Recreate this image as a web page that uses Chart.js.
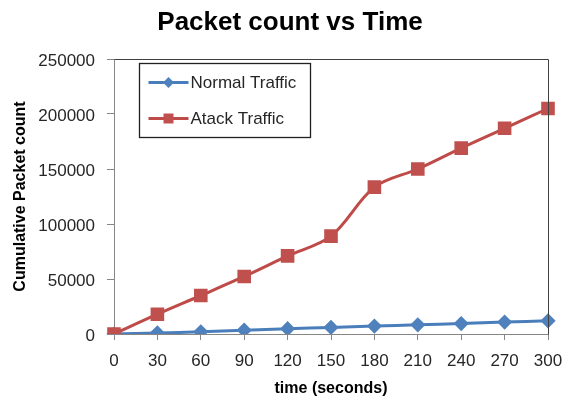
<!DOCTYPE html>
<html>
<head>
<meta charset="utf-8">
<script src="https://cdn.jsdelivr.net/npm/chart.js@4/dist/chart.umd.min.js"></script>
<style>
  html, body { margin: 0; padding: 0; background: #fff; }
  #wrap { width: 563px; height: 400px; position: relative; }
</style>
</head>
<body>
<div id="wrap"><canvas id="chart" width="563" height="400"></canvas></div>
<script>
// Time in seconds (x-axis categories)
const timeLabels = ['0', '30', '60', '90', '120', '150', '180', '210', '240', '270', '300'];
// Cumulative packet counts
const normalTraffic = [0, 1000, 2000, 3500, 4800, 6000, 7200, 8300, 9500, 10800, 12000];
const attackTraffic = [0, 18000, 35000, 52300, 71000, 89000, 133500, 150000, 169000, 187000, 205000];
// Y-axis range
const yTicks = [0, 50000, 100000, 150000, 200000, 250000];

const FONT = '"Liberation Sans", Arial, sans-serif';
const AXIS_GREY = '#868686';

// Chart title, frame on top/right and the boxed legend inside the plot
const decorations = {
  id: 'decorations',
  afterDraw(chart) {
    const ctx = chart.ctx;
    const a = chart.chartArea;
    ctx.save();

    // title
    ctx.fillStyle = '#000';
    ctx.font = 'bold 26px ' + FONT;
    ctx.textAlign = 'center';
    ctx.textBaseline = 'middle';
    ctx.fillText('Packet count vs Time', 290, 23);

    // plot frame (top and right)
    ctx.strokeStyle = '#404040';
    ctx.lineWidth = 1;
    ctx.beginPath();
    ctx.moveTo(Math.round(a.left) + 0.5, Math.round(a.top) + 0.5);
    ctx.lineTo(Math.round(a.right) + 0.5, Math.round(a.top) + 0.5);
    ctx.lineTo(Math.round(a.right) + 0.5, Math.round(a.bottom) + 0.5);
    ctx.stroke();

    // legend box
    const bx = Math.round(a.left) + 25.5, by = Math.round(a.top) + 4.5;
    const bw = 171, bh = 74;
    ctx.fillStyle = '#fff';
    ctx.fillRect(bx, by, bw, bh);
    ctx.strokeStyle = '#202020';
    ctx.lineWidth = 1.3;
    ctx.strokeRect(bx, by, bw, bh);

    const rows = [19, 55];
    chart.data.datasets.forEach((ds, i) => {
      const y = by + rows[i];
      const x0 = bx + 9, x1 = bx + 49, xm = (x0 + x1) / 2;
      ctx.strokeStyle = ds.borderColor;
      ctx.lineWidth = 3;
      ctx.beginPath();
      ctx.moveTo(x0, y);
      ctx.lineTo(x1, y);
      ctx.stroke();
      ctx.fillStyle = ds.pointBackgroundColor;
      ctx.beginPath();
      if (ds.pointStyle === 'rect') {
        ctx.rect(xm - 5, y - 5, 10, 10);
      } else {
        ctx.moveTo(xm, y - 5.5);
        ctx.lineTo(xm + 5.5, y);
        ctx.lineTo(xm, y + 5.5);
        ctx.lineTo(xm - 5.5, y);
        ctx.closePath();
      }
      ctx.fill();
      ctx.fillStyle = '#262626';
      ctx.font = '17px ' + FONT;
      ctx.textAlign = 'left';
      ctx.textBaseline = 'middle';
      ctx.fillText(ds.label, x1 + 2, y + 1);
    });
    ctx.restore();
  }
};

new Chart(document.getElementById('chart'), {
  type: 'line',
  data: {
    labels: timeLabels,
    datasets: [
      {
        label: 'Normal Traffic',
        data: normalTraffic,
        borderColor: '#4a7ebb',
        backgroundColor: '#4f81bd',
        pointBackgroundColor: '#4f81bd',
        pointBorderColor: '#4f81bd',
        pointStyle: 'rectRot',
        pointRadius: 5.5,
        borderWidth: 3,
        tension: 0.33,
        order: 1
      },
      {
        label: 'Atack Traffic',
        data: attackTraffic,
        borderColor: '#be4b48',
        backgroundColor: '#c0504d',
        pointBackgroundColor: '#c0504d',
        pointBorderColor: '#c0504d',
        pointStyle: 'rect',
        pointRadius: 7.5,
        borderWidth: 3,
        tension: 0.33,
        order: 0
      }
    ]
  },
  options: {
    responsive: false,
    animation: false,
    layout: { padding: { top: 59, right: 15, left: 0, bottom: 0 } },
    plugins: {
      legend: { display: false },
      title: { display: false },
      tooltip: { enabled: false }
    },
    scales: {
      x: {
        type: 'category',
        offset: false,
        grid: { drawOnChartArea: false, drawTicks: true, tickLength: 6, tickColor: AXIS_GREY },
        border: { display: true, color: AXIS_GREY },
        ticks: { color: '#262626', font: { family: FONT, size: 17 }, padding: 11, maxRotation: 0, autoSkip: false },
        title: { display: true, text: 'time (seconds)', color: '#000', font: { family: FONT, size: 16, weight: 'bold' }, padding: { top: 0, bottom: 2 } },
        afterFit(scale) {
          scale.height = 66;
          // let the last label run past the plot edge instead of shrinking the plot
          scale.paddingLeft = 0;
          scale.paddingRight = 0;
        }
      },
      y: {
        min: 0,
        max: 250000,
        afterBuildTicks(scale) { scale.ticks = yTicks.map(v => ({ value: v })); },
        grid: { drawOnChartArea: false, drawTicks: true, tickLength: 7, tickColor: AXIS_GREY },
        border: { display: true, color: AXIS_GREY },
        ticks: { color: '#262626', font: { family: FONT, size: 17 }, padding: 12, labelOffset: 2, callback: v => String(v) },
        title: { display: true, text: 'Cumulative Packet count', color: '#000', font: { family: FONT, size: 16, weight: 'bold' }, padding: { top: 11, bottom: 0 } },
        afterFit(scale) { scale.width = 114; }
      }
    }
  },
  plugins: [decorations]
});
</script>
</body>
</html>
